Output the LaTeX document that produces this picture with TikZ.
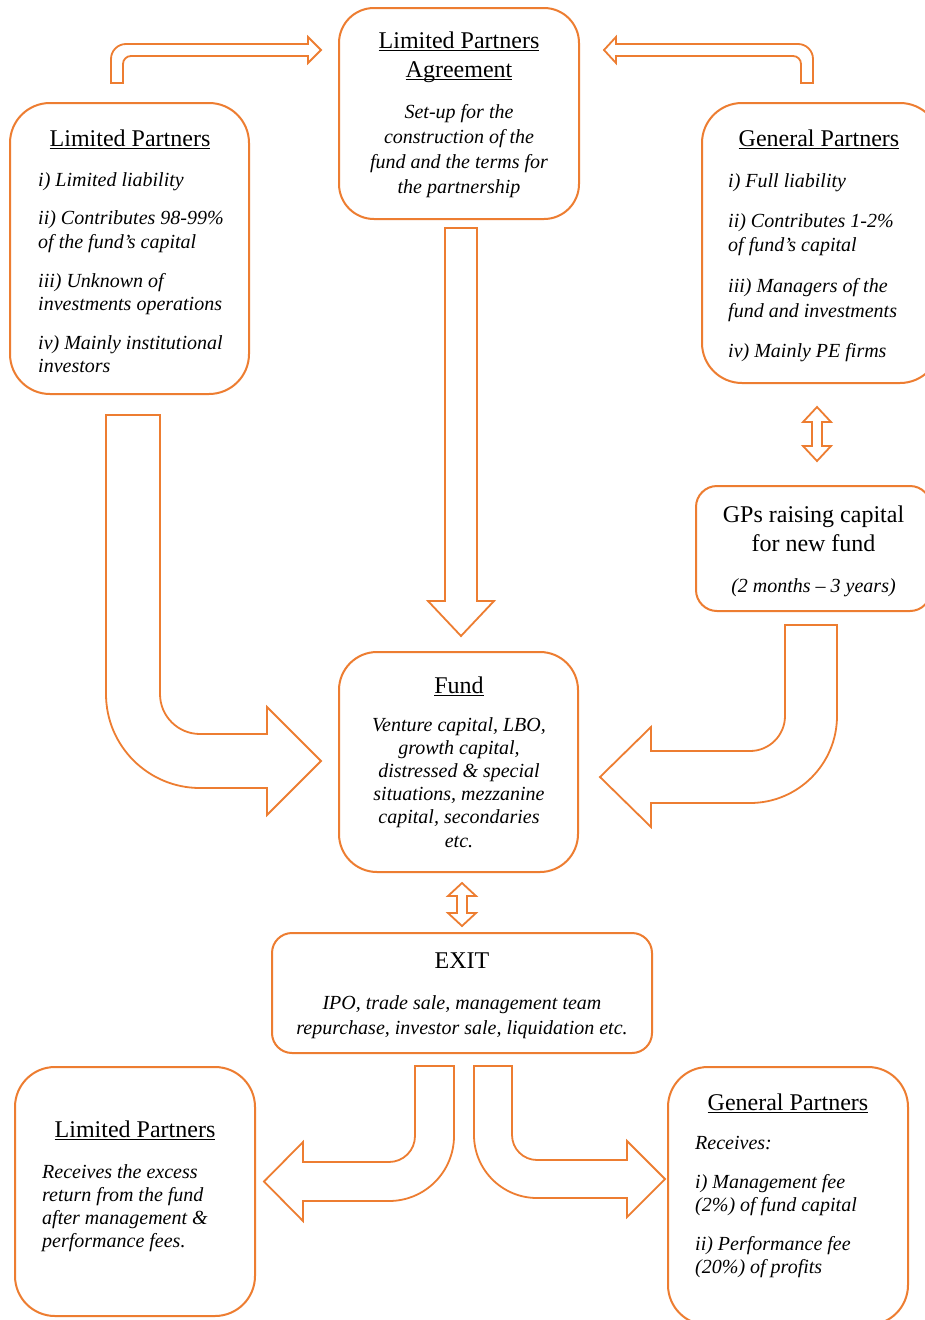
\documentclass[tikz,border=0pt]{standalone}
\usepackage{fontspec}
\setmainfont{Liberation Serif}
\definecolor{accent}{RGB}{237,125,49}
\newsavebox{\ulbox}
% underline that runs through descenders, at a fixed depth below the baseline
\newcommand{\ulined}[1]{\sbox{\ulbox}{#1}\rlap{\rule[-3.2pt]{\wd\ulbox}{1.1pt}}\usebox{\ulbox}}
\begin{document}
\begin{tikzpicture}[x=1pt,y=-1pt,
  box/.style={draw=accent, line width=2pt, rounded corners=#1, inner sep=0pt},
  box/.default=40pt,
  blockarrow/.style={draw=accent, line width=1.8pt, line join=miter},
  title/.style={anchor=base, inner sep=0pt, font=\fontsize{24}{28}\selectfont},
  body/.style={anchor=base, inner sep=0pt, font=\fontsize{20}{24}\selectfont\itshape},
  bodyl/.style={body, anchor=base west}]

\fill[white] (0,0) rectangle (925,1320);
\useasboundingbox (0,0) rectangle (925,1320);

% ---------- boxes ----------
\node[box=35pt, minimum width=240pt, minimum height=211pt] (lpa)  at (459,113.5) {};
\node[box=40pt, minimum width=239pt, minimum height=291pt] (lp)   at (129.5,248.5) {};
\node[box=40pt, minimum width=238pt, minimum height=280pt] (gp)   at (821,243) {};
\node[box=21pt, minimum width=235pt, minimum height=125pt] (gpr)  at (813.5,548.5) {};
\node[box=38pt, minimum width=239pt, minimum height=220pt] (fund) at (458.5,762) {};
\node[box=20pt, minimum width=380pt, minimum height=120pt] (exit) at (462,993) {};
\node[box=40pt, minimum width=240pt, minimum height=249pt] (lpb)  at (135,1191.5) {};
\node[box=40pt, minimum width=240pt, minimum height=258pt] (gpb)  at (788,1196) {};

% ---------- texts ----------
\node[title] (lpaT1) at (459,48) {\ulined{Limited Partners}};
\node[title] (lpaT2) at (459,77) {\ulined{Agreement}};
\node[body] (lpaB1) at (459,118) {Set-up for the};
\node[body] (lpaB2) at (459,143) {construction of the};
\node[body] (lpaB3) at (459,168) {fund and the terms for};
\node[body] (lpaB4) at (459,193) {the partnership};

\node[title] (lpT) at (130,146) {\ulined{Limited Partners}};
\node[bodyl] (lpB1) at (38,186) {i) Limited liability};
\node[bodyl] (lpB2) at (38,224) {ii) Contributes 98-99\%};
\node[bodyl] (lpB3) at (38,248) {of the fund’s capital};
\node[bodyl] (lpB4) at (38,287) {iii) Unknown of};
\node[bodyl] (lpB5) at (38,310) {investments operations};
\node[bodyl] (lpB6) at (38,349) {iv) Mainly institutional};
\node[bodyl] (lpB7) at (38,372) {investors};

\node[title] (gpT) at (819,146) {\ulined{General Partners}};
\node[bodyl] (gpB1) at (728,187) {i) Full liability};
\node[bodyl] (gpB2) at (728,227) {ii) Contributes 1-2\%};
\node[bodyl] (gpB3) at (728,251) {of fund’s capital};
\node[bodyl] (gpB4) at (728,292) {iii) Managers of the};
\node[bodyl] (gpB5) at (728,317) {fund and investments};
\node[bodyl] (gpB6) at (728,357) {iv) Mainly PE firms};

\node[title] (gprT1) at (813.5,522) {GPs raising capital};
\node[title] (gprT2) at (813.5,551) {for new fund};
\node[body] (gprB) at (813.5,592) {(2 months -- 3 years)};

\node[title] (fundT) at (459,693) {\ulined{Fund}};
\node[body] (fundB1) at (459,731) {Venture capital, LBO,};
\node[body] (fundB2) at (459,754) {growth capital,};
\node[body] (fundB3) at (459,777) {distressed \& special};
\node[body] (fundB4) at (459,800) {situations, mezzanine};
\node[body] (fundB5) at (459,823) {capital, secondaries};
\node[body] (fundB6) at (459,847) {etc.};

\node[title] (exitT) at (462,968) {EXIT};
\node[body] (exitB1) at (462,1009) {IPO, trade sale, management team};
\node[body] (exitB2) at (462,1034) {repurchase, investor sale, liquidation etc.};

\node[title] (lpbT) at (135,1137) {\ulined{Limited Partners}};
\node[bodyl] (lpbB1) at (42,1178) {Receives the excess};
\node[bodyl] (lpbB2) at (42,1201) {return from the fund};
\node[bodyl] (lpbB3) at (42,1224) {after management \&};
\node[bodyl] (lpbB4) at (42,1247) {performance fees.};

\node[title] (gpbT) at (788,1110) {\ulined{General Partners}};
\node[bodyl] (gpbB1) at (695,1149) {Receives:};
\node[bodyl] (gpbB2) at (695,1188) {i) Management fee};
\node[bodyl] (gpbB3) at (695,1211) {(2\%) of fund capital};
\node[bodyl] (gpbB4) at (695,1250) {ii) Performance fee};
\node[bodyl] (gpbB5) at (695,1273) {(20\%) of profits};

% ---------- block arrows ----------
% LP -> agreement (bent, top left)
\draw[blockarrow] (111,83) -- (111,59) .. controls (111,50.7) and (117.7,44) .. (126,44)
  -- (308,44) -- (308,37) -- (321,50) -- (308,63) -- (308,56) -- (131,56)
  .. controls (126.6,56) and (123,59.6) .. (123,64) -- (123,83) -- cycle;
% GP -> agreement (bent, top right)
\draw[blockarrow] (813,83) -- (813,59) .. controls (813,50.7) and (806.3,44) .. (798,44)
  -- (616,44) -- (616,37) -- (604,50) -- (616,63) -- (616,56) -- (793,56)
  .. controls (797.4,56) and (801,59.6) .. (801,64) -- (801,83) -- cycle;
% agreement -> fund
\draw[blockarrow] (445,228) -- (477,228) -- (477,601) -- (494,601) -- (461,636)
  -- (428,601) -- (445,601) -- cycle;
% LP -> fund (big bent)
\draw[blockarrow] (106,415) -- (160,415) -- (160,694)
  .. controls (160,716.1) and (177.9,734) .. (200,734)
  -- (267,734) -- (267,707) -- (321,761) -- (267,815) -- (267,788) -- (200,788)
  .. controls (148.1,788) and (106,745.9) .. (106,694) -- cycle;
% GPs raising capital -> fund (big bent)
\draw[blockarrow] (785,625) -- (837,625) -- (837,716)
  .. controls (837,764.05) and (798.05,803) .. (750,803)
  -- (651,803) -- (651,827) -- (600,777) -- (651,727) -- (651,751) -- (750,751)
  .. controls (769.3,751) and (785,735.3) .. (785,716) -- cycle;
% GP <-> GPs raising capital
\draw[blockarrow] (817,407) -- (831,422) -- (822,422) -- (822,446) -- (831,446)
  -- (817,461) -- (803,446) -- (812,446) -- (812,422) -- (803,422) -- cycle;
% fund <-> exit
\draw[blockarrow] (462,883) -- (476,896) -- (467,896) -- (467,913) -- (476,913)
  -- (462,926) -- (448,913) -- (457,913) -- (457,896) -- (448,896) -- cycle;
% exit -> LP (bottom left)
\draw[blockarrow] (415,1066) -- (454,1066) -- (454,1136)
  .. controls (454,1171.9) and (424.9,1201) .. (389,1201)
  -- (303,1201) -- (303,1221) -- (264,1181.5) -- (303,1142) -- (303,1162) -- (389,1162)
  .. controls (403.4,1162) and (415,1150.4) .. (415,1136) -- cycle;
% exit -> GP (bottom right)
\draw[blockarrow] (474,1066) -- (512,1066) -- (512,1135)
  .. controls (512,1148.8) and (523.2,1160) .. (537,1160)
  -- (627,1160) -- (627,1141) -- (665,1179) -- (627,1217) -- (627,1198) -- (537,1198)
  .. controls (502.2,1198) and (474,1169.8) .. (474,1135) -- cycle;
\end{tikzpicture}
\end{document}
